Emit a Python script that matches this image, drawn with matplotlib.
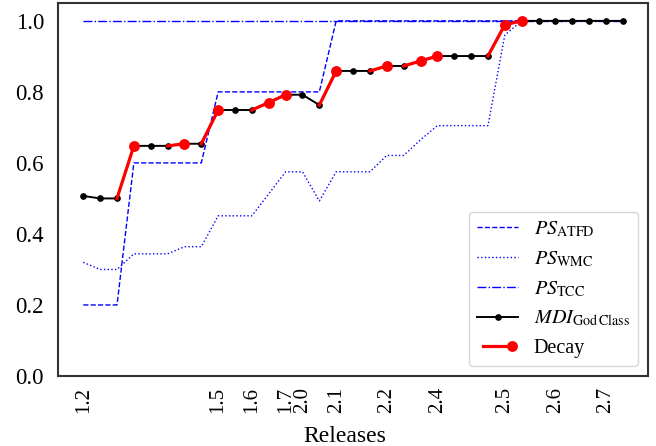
import numpy as np
import matplotlib
matplotlib.use("Agg")
import matplotlib.pyplot as plt
from matplotlib.lines import Line2D
from matplotlib.legend_handler import HandlerBase

plt.rcParams['font.family'] = ['Liberation Serif', 'DejaVu Serif']
plt.rcParams['mathtext.fontset'] = 'stix'

# ---------------- data ----------------
release_labels = ['1.2', '1.5', '1.6', '1.7', '2.0', '2.1', '2.2', '2.4', '2.5', '2.6', '2.7']
release_tick_idx = [0, 8, 10, 12, 13, 15, 18, 21, 25, 28, 31]

ps_atfd = [0.2, 0.2, 0.2, 0.6, 0.6, 0.6, 0.6, 0.6, 0.8, 0.8, 0.8, 0.8, 0.8, 0.8, 0.8,
           1.0, 1.0, 1.0, 1.0, 1.0, 1.0, 1.0, 1.0, 1.0, 1.0, 1.0, 1.0, 1.0, 1.0, 1.0,
           1.0, 1.0, 1.0]
ps_wmc = [0.32, 0.30, 0.30, 0.344, 0.344, 0.344, 0.364, 0.364, 0.451, 0.451, 0.451,
          0.513, 0.575, 0.575, 0.493, 0.575, 0.575, 0.575, 0.621, 0.621, 0.665,
          0.705, 0.705, 0.705, 0.705, 0.96, 1.0, 1.0, 1.0, 1.0, 1.0, 1.0, 1.0]
ps_tcc = [1.0] * 33
mdi_godclass = [0.507, 0.5, 0.5, 0.648, 0.648, 0.648, 0.654, 0.654, 0.749, 0.749, 0.749,
                0.770, 0.792, 0.792, 0.763, 0.859, 0.859, 0.859, 0.873, 0.873, 0.887,
                0.901, 0.901, 0.901, 0.901, 0.989, 1.0, 1.0, 1.0, 1.0, 1.0, 1.0, 1.0]
decay_idx = [3, 6, 8, 11, 12, 15, 18, 20, 21, 25, 26]

x = np.arange(len(mdi_godclass))

fig = plt.figure(figsize=(6.56, 4.46), dpi=100)
ax = fig.add_axes([0.0884, 0.157, 0.8996, 0.836])

ax.plot(x, ps_atfd, color='blue', ls='--', lw=1.0)
ax.plot(x, ps_wmc, color='blue', ls=':', lw=1.0)
ax.plot(x, ps_tcc, color='blue', ls='-.', lw=1.0)
ax.plot(x, mdi_godclass, color='black', lw=1.4, marker='o', ms=3.8)
for i in decay_idx:
    ax.plot([x[i - 1], x[i]], [mdi_godclass[i - 1], mdi_godclass[i]], color='red',
            lw=2.3, marker='o', ms=6.8, markevery=[1], zorder=3)

ax.set_xlim(-1.5, 33.5)
ax.set_ylim(0, 1.05)
ax.set_xticks([x[i] for i in release_tick_idx])
ax.set_xticklabels(release_labels, rotation=90, fontsize=15)
ax.set_yticks([0.0, 0.2, 0.4, 0.6, 0.8, 1.0])
ax.set_yticklabels(['0.0', '0.2', '0.4', '0.6', '0.8', '1.0'], fontsize=16.5)
ax.tick_params(axis='both', length=0)
ax.tick_params(axis='x', pad=8)
ax.tick_params(axis='y', pad=10)
for s in ax.spines.values():
    s.set_color('#333333')
    s.set_linewidth(1.5)

ax.set_xlabel('Releases', fontsize=17)
ax.xaxis.set_label_coords(0.486, -0.135)


class DecayHandler(HandlerBase):
    def create_artists(self, legend, orig_handle, xdescent, ydescent, width, height,
                       fontsize, trans):
        pad = 0.3 * fontsize
        y = (height - ydescent) / 2
        ln = Line2D([-xdescent + pad, -xdescent + width - pad], [y, y], color='red',
                    lw=2.3, marker='o', ms=6.8, markevery=[1], transform=trans)
        return [ln]


handles = [
    Line2D([], [], color='blue', ls='--', lw=1.0),
    Line2D([], [], color='blue', ls=':', lw=1.0),
    Line2D([], [], color='blue', ls='-.', lw=1.0),
    Line2D([], [], color='black', lw=1.4, marker='o', ms=3.8),
    Line2D([], [], color='red', lw=2.3, marker='o', ms=6.8),
]
labels = [r'$PS_{\mathrm{ATFD}}$', r'$PS_{\mathrm{WMC}}$', r'$PS_{\mathrm{TCC}}$',
          r'$MDI_{\mathrm{God\,Class}}$', 'Decay']
ax.legend(handles, labels, loc='lower right', fontsize=14.5,
          handler_map={handles[4]: DecayHandler()})

fig.savefig('out.png', dpi=100)
